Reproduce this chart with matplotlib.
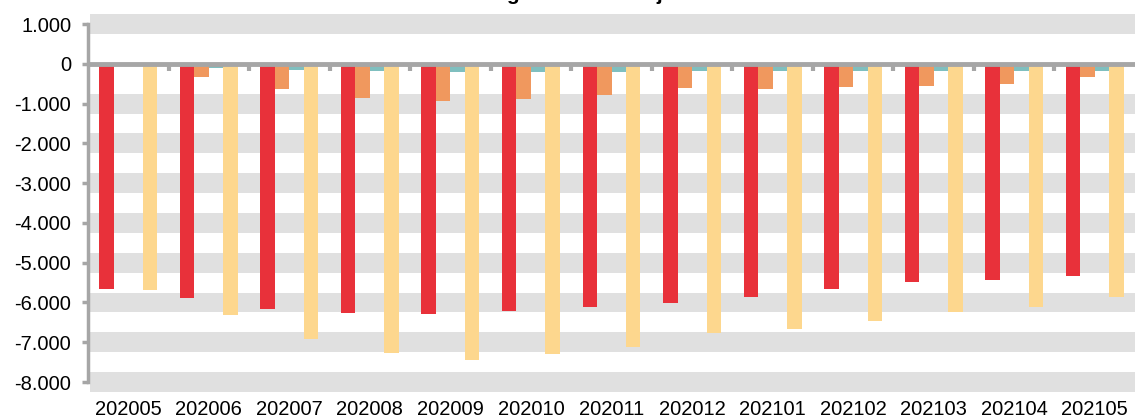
import numpy as np
import matplotlib
matplotlib.use("Agg")
import matplotlib.pyplot as plt
from matplotlib.ticker import FuncFormatter

# valores
meses = ['202005', '202006', '202007', '202008', '202009', '202010', '202011',
         '202012', '202101', '202102', '202103', '202104', '202105']
serie_roja = [-5670, -5890, -6170, -6270, -6290, -6220, -6120,
              -6020, -5870, -5670, -5490, -5440, -5340]
serie_naranja = [0, -320, -627, -853, -945, -886, -785,
                 -602, -627, -594, -569, -502, -334]
serie_turquesa = [0, -100, -145, -180, -213, -213, -213,
                  -180, -180, -180, -180, -180, -190]
serie_amarilla = [-5690, -6320, -6930, -7280, -7450, -7300, -7110,
                  -6780, -6670, -6470, -6250, -6110, -5860]

colores = ['#E8313A', '#F0985E', '#7FBFBF', '#FDD78E']
GRIS = '#A6A6A6'


def miles(v, pos):
    return f"{int(v):,}".replace(',', '.')


plt.rcParams['font.family'] = ['Liberation Sans', 'DejaVu Sans']

fig = plt.figure(figsize=(11.35, 4.18), dpi=100)
ax = fig.add_axes([88 / 1135, 1 - 382 / 418, 1 - 88 / 1135, (382 - 24) / 418])

x = np.arange(len(meses))
ancho = 0.18
series = [serie_roja, serie_naranja, serie_turquesa, serie_amarilla]
for i, (valores, color) in enumerate(zip(series, colores)):
    ax.bar(x + (i - 1.5) * ancho, valores, ancho, color=color, zorder=3)

ax.set_xlim(-0.5, len(meses) - 0.5)
ax.set_ylim(-8000, 1000)

# bandas grises (líneas de división gruesas), sin la del eje 0
for v in range(-8000, 1001, 1000):
    if v == 0:
        continue
    ax.axhspan(v - 250, v + 250, xmin=0.002, xmax=1, color='#E0E0E0',
               lw=0, zorder=0, clip_on=False)

ax.axhline(0, color=GRIS, lw=3.5, zorder=4)

for s in ['top', 'right', 'bottom']:
    ax.spines[s].set_visible(False)
ax.spines['left'].set_color(GRIS)
ax.spines['left'].set_linewidth(2.5)
ax.spines['left'].set_zorder(5)

ax.set_yticks(range(-8000, 1001, 1000))
ax.yaxis.set_major_formatter(FuncFormatter(miles))
ax.tick_params(axis='y', length=4, width=2.5, color=GRIS, labelsize=14.5, pad=8)

ax.set_xticks(x)
ax.set_xticklabels(meses)
ax.tick_params(axis='x', length=0, labelsize=14.5, pad=13)

# marcas entre categorías sobre el eje 0
for b in np.arange(0.5, len(meses) - 0.5, 1):
    ax.plot([b, b], [0, -180], color=GRIS, lw=3, zorder=4, solid_capstyle='butt')

fig.text(0.502, 1.012, 'Obligaciones de caja', ha='center', va='center',
         fontsize=15, fontweight='bold')

fig.savefig('out.png', dpi=100)
